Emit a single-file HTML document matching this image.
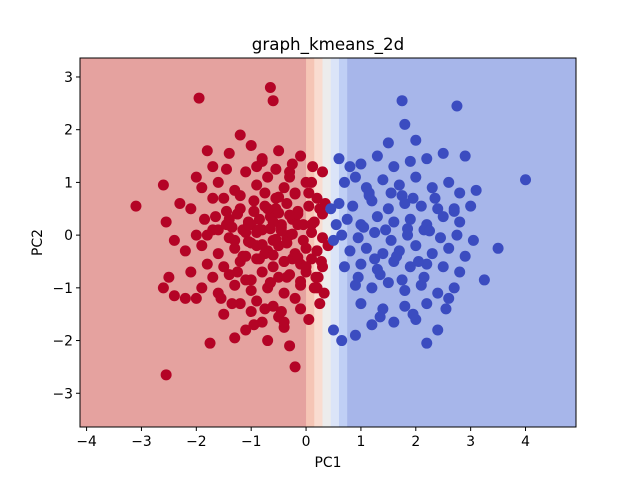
<!DOCTYPE html>
<html><head><meta charset="utf-8"><style>
body{margin:0;background:#fff}
svg text{font-family:"DejaVu Sans","Liberation Sans",sans-serif;fill:#000}
</style></head><body>
<svg id="chart" width="640" height="480" xmlns="http://www.w3.org/2000/svg"></svg>
<script>
const xTicks=[-4,-3,-2,-1,0,1,2,3,4];
const yTicks=[-3,-2,-1,0,1,2,3];
const bandEdges=[-4.12,0.0,0.15,0.3,0.45,0.6,0.75,4.92];
const bandColors=["#e5a29f","#f5c5b5","#f9dcd0","#ececec","#dbe4f8","#c0cff5","#a7b6ea"];
const redX=[-3.1,-1.95,-0.65,-0.6,-2.55,-1.75,-0.2,-2.6,-2.55,-2.5,-2.2,-1.8,-1.7,-1.4,-1.2,-1.0,-0.8,-0.5,-0.3,-0.1,0.1,-2.0,-1.9,-1.6,-1.3,-1.1,-0.9,-0.7,-0.4,-0.2,0.0,0.2,-2.3,-2.1,-1.5,-1.2,-0.95,-0.75,-0.55,-0.35,-0.15,0.05,0.25,-1.85,-1.65,-1.45,-1.25,-1.05,-0.85,-0.65,-0.45,-0.25,-0.05,0.15,0.3,-2.4,-2.0,-1.7,-1.4,-1.1,-0.8,-0.6,-0.3,0.1,0.3,-2.2,-1.9,-1.6,-1.3,-1.0,-0.7,-0.5,-0.2,0.0,0.2,-1.8,-1.5,-1.2,-0.9,-0.6,-0.4,-0.1,0.1,-2.1,-1.7,-1.4,-1.1,-0.8,-0.5,-0.3,0.0,0.3,-1.9,-1.6,-1.3,-1.0,-0.7,-0.4,-0.1,0.2,-2.0,-1.2,-0.9,-0.6,-0.2,0.15,-1.5,-1.0,-0.5,-0.1,-2.6,-2.4,-1.1,-0.8,-0.4,0.05,-1.3,-0.7,-0.3,0.25,-1.6,-0.9,-0.45,-0.05,-1.4,-1.0,-0.6,-0.2,-1.8,-1.3,-0.85,-0.35,0.1,-0.95,-0.55,-0.15,-1.15,-0.75,-0.25,0.2,0.3,0.35,0.4,0.28,0.33,0.22,
-1.35,-1.15,-0.9,-0.65,-0.45,-0.25,-1.05,-0.8,-0.55,-0.35,-1.25,-0.95,-0.7,-0.5,-0.3,-1.1,-0.85,-0.6,-0.4,-0.15,-1.2,-0.75,-0.5,-0.2,0.05,-1.0,-0.65,-0.35,-0.1,0.18,-0.9,-0.55,-0.25,0.12,-1.55,-1.35,-0.75,-0.45,-1.7,-1.45,-0.8,-0.3,-1.25,-0.65,0.0,-0.95,-0.4,-1.45,-1.05,-0.15];
const redY=[0.55,2.6,2.8,2.55,-2.65,-2.05,-2.5,0.95,0.25,-0.8,-1.2,1.6,1.3,1.55,1.9,1.7,1.4,1.6,1.2,1.5,1.0,1.1,0.9,1.0,0.85,1.2,0.95,1.1,0.9,0.8,1.0,0.7,0.6,0.5,0.7,0.5,0.65,0.55,0.7,0.6,0.45,0.55,0.5,0.3,0.35,0.2,0.4,0.25,0.3,0.35,0.2,0.3,0.2,0.25,0.4,-0.1,0.0,0.1,-0.05,0.05,0.1,-0.1,0.0,0.05,-0.05,-0.3,-0.2,-0.35,-0.25,-0.15,-0.3,-0.2,-0.35,-0.25,-0.3,-0.55,-0.6,-0.5,-0.45,-0.6,-0.5,-0.55,-0.45,-0.7,-0.8,-0.75,-0.85,-0.7,-0.8,-0.75,-0.7,-0.6,-1.0,-1.1,-0.95,-1.05,-1.0,-1.1,-0.95,-1.0,-1.2,-1.3,-1.25,-1.35,-1.2,-1.0,-1.5,-1.45,-1.55,-1.4,-1.0,-1.15,-1.8,-1.65,-1.75,-1.6,-1.95,-2.0,-2.1,-1.3,0.1,-0.2,0.15,-0.1,0.3,0.2,0.25,0.35,0.0,-0.1,0.1,-0.05,0.2,0.45,0.5,0.4,-0.4,-0.35,-0.45,-0.3,1.2,0.6,-0.2,-0.5,-1.1,-0.8,
0.15,0.1,0.05,0.12,0.08,0.02,-0.12,-0.18,-0.08,-0.15,0.4,0.45,0.5,0.42,0.38,-0.4,-0.45,-0.38,-0.5,-0.42,0.75,0.8,0.72,0.78,0.8,-0.85,-0.9,-0.8,-0.88,-0.8,1.3,1.25,1.35,1.3,-1.2,-1.3,-1.4,-1.45,0.7,0.45,1.45,1.1,-0.7,-0.9,-0.6,-1.7,-1.65,1.25,0.2,0.2];
const blueX=[4.0,1.75,2.75,1.8,3.5,3.25,2.2,0.65,0.5,0.6,0.8,1.0,1.3,1.6,1.9,2.2,2.5,2.9,0.7,0.9,1.1,1.4,1.7,2.0,2.3,2.6,2.8,3.1,0.6,0.85,1.2,1.5,1.8,2.1,2.4,2.7,3.0,0.75,1.0,1.3,1.6,1.9,2.2,2.5,2.8,0.65,0.95,1.25,1.55,1.85,2.15,2.45,2.75,3.05,0.8,1.1,1.4,1.7,2.0,2.3,2.6,2.9,0.7,1.0,1.3,1.6,1.9,2.2,2.5,2.8,0.9,1.2,1.5,1.8,2.1,2.4,2.7,1.0,1.4,1.8,2.2,2.6,1.2,1.6,2.0,2.4,0.55,0.5,0.45,1.5,2.0,2.7,0.9,1.35,1.95,2.55,1.15,1.75,2.35,
1.05,1.45,1.85,2.25,1.25,1.65,2.05,1.15,1.55,1.95,0.95,1.35,1.75,2.15];
const blueY=[1.05,2.55,2.45,2.1,-0.25,-0.85,-2.05,-2.0,-1.8,1.45,1.3,1.35,1.5,1.3,1.4,1.45,1.55,1.5,1.0,1.1,0.9,1.05,0.95,1.1,0.9,1.0,0.8,0.85,0.6,0.55,0.65,0.5,0.6,0.55,0.5,0.45,0.55,0.3,0.2,0.35,0.25,0.3,0.2,0.35,0.25,0.0,-0.05,0.05,-0.1,0.0,0.1,-0.05,0.0,-0.1,-0.3,-0.25,-0.35,-0.3,-0.2,-0.35,-0.25,-0.4,-0.6,-0.55,-0.65,-0.5,-0.6,-0.55,-0.6,-0.7,-0.95,-1.0,-0.9,-1.05,-0.95,-1.1,-1.0,-1.3,-1.4,-1.35,-1.3,-1.2,-1.7,-1.65,-1.6,-1.8,0.2,-0.1,0.5,1.75,1.8,0.5,-1.9,-1.55,-1.5,-1.4,0.8,0.75,0.7,
0.15,0.1,0.12,0.08,-0.45,-0.4,-0.5,0.75,0.8,0.7,-0.8,-0.75,-0.85,-0.8];
const NS="http://www.w3.org/2000/svg";
const svg=document.getElementById('chart');
const L=80,R=576,T=58,B=427,xmin=-4.12,xmax=4.92,ymin=-3.64,ymax=3.36;
const sx=v=>L+(v-xmin)/(xmax-xmin)*(R-L);
const sy=v=>B-(v-ymin)/(ymax-ymin)*(B-T);
function mk(tag,attrs){const e=document.createElementNS(NS,tag);for(const k in attrs)e.setAttribute(k,attrs[k]);svg.appendChild(e);return e;}
for(let i=0;i<bandColors.length;i++){
 const r=mk('rect',{x:sx(bandEdges[i]),y:T,width:sx(bandEdges[i+1])-sx(bandEdges[i])+0.5,height:B-T,fill:bandColors[i]});
 
 
}
for(let i=0;i<redX.length;i++){
 const c=mk('circle',{cx:sx(redX[i]),cy:sy(redY[i]),r:5.5,fill:'#b40426'});
 
 
}
for(let i=0;i<blueX.length;i++){
 const c=mk('circle',{cx:sx(blueX[i]),cy:sy(blueY[i]),r:5.5,fill:'#3b4cc0'});
 
 
}
const frame=mk('rect',{x:L,y:T,width:R-L,height:B-T,fill:'none',stroke:'#000','stroke-width':1});


xTicks.forEach(v=>{
 mk('line',{x1:sx(v),x2:sx(v),y1:B,y2:B+4,stroke:'#000'});
 const t=mk('text',{x:sx(v),y:B+19,'text-anchor':'middle','font-size':13.9});t.textContent=(v<0?'\u2212'+(-v):v);
 
 
});
yTicks.forEach(v=>{
 mk('line',{x1:L-4,x2:L,y1:sy(v),y2:sy(v),stroke:'#000'});
 const t=mk('text',{x:L-7,y:sy(v)+5,'text-anchor':'end','font-size':13.9});t.textContent=(v<0?'\u2212'+(-v):v);
 
 
});
const xt=mk('text',{x:(L+R)/2,y:467,'text-anchor':'middle','font-size':13.9});xt.textContent='PC1';


const yt=mk('text',{x:0,y:0,'text-anchor':'middle','font-size':13.9,transform:`translate(42,${(T+B)/2}) rotate(-90)`});yt.textContent='PC2';


const tt=mk('text',{x:(L+R)/2,y:50,'text-anchor':'middle','font-size':16.7});tt.textContent='graph_kmeans_2d';


</script>
</body></html>
